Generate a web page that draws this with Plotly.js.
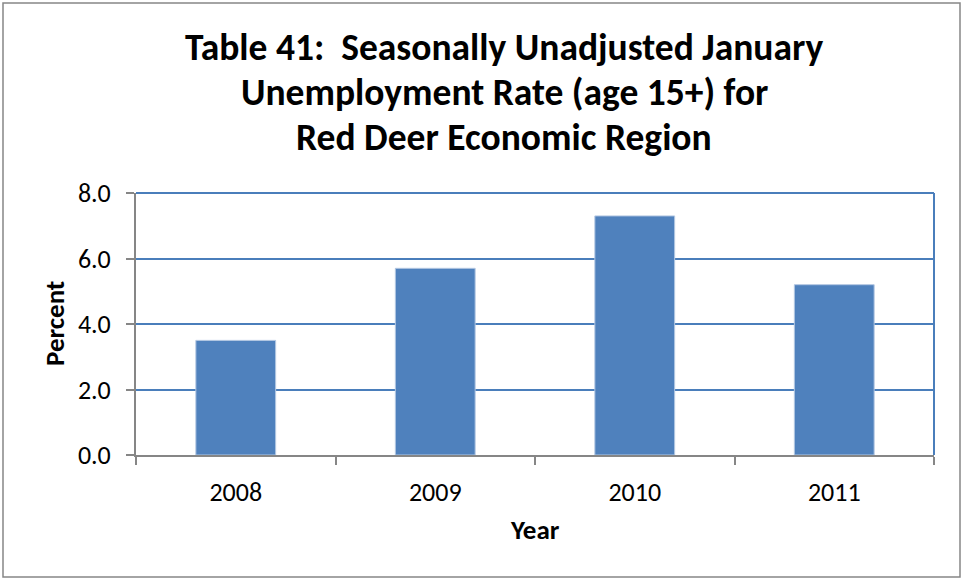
<!DOCTYPE html>
<html>
<head>
<meta charset="utf-8">
<script src="https://cdn.plot.ly/plotly-3.0.1.min.js"></script>
<style>
html,body{margin:0;padding:0;background:#fff;}
#chart{width:963px;height:580px;}
</style>
</head>
<body>
<div id="chart"></div>
<script>
const years = ['2008', '2009', '2010', '2011'];
const rates = [3.5, 5.7, 7.3, 5.2];
const yTicks = [0, 2, 4, 6, 8];
const yTickLabels = ['0.0', '2.0', '4.0', '6.0', '8.0'];
const titleLines = [
  'Table 41:  Seasonally Unadjusted January',
  'Unemployment Rate (age 15+) for',
  'Red Deer Economic Region'
];
const xTitle = 'Year';
const yTitle = 'Percent';

const FONT = 'Carlito, Lato, "Open Sans", sans-serif';
const W = 963, H = 580;
const M = {l: 136, r: 29, t: 193, b: 125};
const pw = W - M.l - M.r, ph = H - M.t - M.b;
const px = x => (x - M.l) / pw;
const py = y => (H - M.b - y) / ph;

const trace = {
  type: 'bar',
  x: years,
  y: rates,
  marker: {color: '#4F81BD', line: {color: '#B3C7E2', width: 1}},
  hoverinfo: 'skip'
};

const titleAnn = titleLines.map((t, i) => ({
  text: '<b>' + t + '</b>',
  xref: 'paper', yref: 'paper',
  x: px(504), y: py([47, 92, 137][i]),
  xanchor: 'center', yanchor: 'middle',
  showarrow: false,
  font: {family: FONT, size: 37.5, color: '#000'}
}));

const layout = {
  width: W, height: H,
  margin: M,
  paper_bgcolor: '#fff',
  plot_bgcolor: '#fff',
  showlegend: false,
  bargap: 0.6,
  font: {family: FONT, color: '#000'},
  xaxis: {
    type: 'category',
    showline: true, linecolor: '#868686', linewidth: 2,
    ticks: 'outside', tickson: 'boundaries', ticklen: 8, tickcolor: '#868686', tickwidth: 2,
    tickfont: {family: FONT, size: 26, color: '#000'},
    ticklabelstandoff: 13,
    showgrid: false, zeroline: false
  },
  yaxis: {
    range: [0, 8],
    tickvals: yTicks, ticktext: yTickLabels,
    showline: true, linecolor: '#868686', linewidth: 2,
    ticks: 'outside', ticklen: 8, tickcolor: '#868686', tickwidth: 2,
    tickfont: {family: FONT, size: 26, color: '#000'},
    ticklabelstandoff: 10,
    showgrid: true, gridcolor: '#4A7EBB', gridwidth: 2,
    zeroline: false
  },
  annotations: titleAnn.concat([
    {text: '<b>' + yTitle + '</b>', xref: 'paper', yref: 'paper', x: px(54), y: 0.5,
     xanchor: 'center', yanchor: 'middle', textangle: -90, showarrow: false,
     font: {family: FONT, size: 27, color: '#000'}},
    {text: '<b>' + xTitle + '</b>', xref: 'paper', yref: 'paper', x: 0.5, y: py(529),
     xanchor: 'center', yanchor: 'middle', showarrow: false,
     font: {family: FONT, size: 27, color: '#000'}}
  ]),
  shapes: [
    {type: 'line', xref: 'paper', yref: 'paper', x0: 0, x1: 1, y0: 1, y1: 1,
     line: {color: '#4A7EBB', width: 2}},
    {type: 'line', xref: 'paper', yref: 'paper', x0: 1, x1: 1, y0: 0, y1: 1,
     line: {color: '#4A7EBB', width: 2}},
    {type: 'rect', xref: 'paper', yref: 'paper', x0: px(3), x1: px(960), y0: py(577), y1: py(3),
     line: {color: '#868686', width: 1.5}, fillcolor: 'rgba(0,0,0,0)', layer: 'below'}
  ]
};

Plotly.newPlot('chart', [trace], layout, {displayModeBar: false, staticPlot: true});
</script>
</body>
</html>
